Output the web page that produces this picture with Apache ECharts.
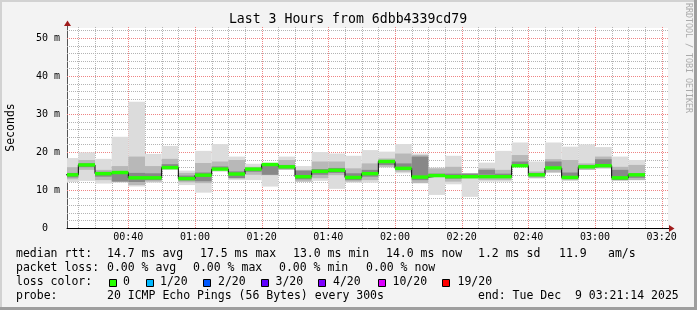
<!DOCTYPE html>
<html><head><meta charset="utf-8">
<script src="https://cdn.jsdelivr.net/npm/echarts@6/dist/echarts.min.js"></script>
<style>html,body{margin:0;padding:0;background:#f3f3f3}#c{width:697px;height:310px}</style>
</head><body><div id="c"></div>
<script>
// ---- data ----
const barStart = ['00:20','00:25','00:30','00:35','00:40','00:45','00:50','00:55',
  '01:00','01:05','01:10','01:15','01:20','01:25','01:30','01:35','01:40','01:45','01:50','01:55',
  '02:00','02:05','02:10','02:15','02:20','02:25','02:30','02:35','02:40','02:45','02:50','02:55',
  '03:00','03:05','03:10'];
const median  = [14.0,16.6,14.3,14.6,13.2,13.2,15.9,13.0,13.9,15.5,14.2,15.5,16.7,16.1,13.5,14.9,15.2,13.3,14.3,17.5,
                 15.7,13.4,13.8,13.5,13.5,13.5,13.5,16.4,14.0,15.8,13.3,16.1,16.4,13.2,14.0];
const outerLo = [12.1,12.4,11.7,11.9,10.9,11.9,15.3,11.3,9.3,14.8,12.6,12.6,10.9,15.3,12.2,12.4,10.3,11.9,11.9,15.9,
                 14.4,11.8,8.7,11.5,8.2,12.2,12.2,16.0,13.1,14.6,12.4,15.3,15.7,12.4,12.6];
const outerHi = [18.4,19.9,18.2,24.0,33.2,19.5,21.6,15.1,20.3,22.1,18.8,16.9,17.2,18.8,16.3,20.0,19.6,19.0,20.5,20.1,
                 22.1,19.6,15.9,19.0,14.4,17.2,20.3,22.5,17.5,22.5,21.4,22.0,21.3,18.8,17.9];
const midLo   = [12.8,15.3,12.6,12.2,11.3,12.2,15.5,12.0,11.8,15.3,13.1,14.0,13.9,15.3,12.2,13.1,13.9,12.2,12.6,16.1,
                 14.8,11.8,13.5,12.2,13.1,12.6,12.6,16.6,13.1,14.6,12.6,15.3,15.7,12.6,12.6];
const midHi   = [16.0,17.9,15.3,16.3,18.8,16.3,18.2,14.5,17.1,17.5,17.9,16.1,17.0,17.9,15.3,17.5,17.5,15.7,17.0,18.3,
                 19.6,19.2,15.7,16.1,14.4,15.7,15.3,19.2,14.9,18.1,17.9,17.0,18.8,16.1,16.6];
const innerLo = [13.3,16.0,13.5,12.2,12.1,12.6,15.5,12.5,12.3,15.3,13.1,14.8,14.0,15.6,12.8,14.0,14.5,12.6,13.5,16.6,
                 15.3,12.6,13.5,13.0,13.6,14.0,13.2,16.4,13.6,16.1,12.9,15.8,16.6,12.6,13.2];
const innerHi = [14.5,17.0,14.8,14.5,14.5,14.4,16.8,13.8,14.6,16.2,14.9,15.8,16.5,16.6,15.1,15.5,15.8,14.4,15.3,17.9,
                 17.0,18.8,14.3,14.3,14.3,15.3,14.3,17.5,14.5,17.5,14.6,16.6,18.1,15.3,14.3];
const stepMinutes = 5;
const viewStart = '00:21:36', viewEnd = '03:21:54';
const xLabelTicks = ['00:40','01:00','01:20','01:40','02:00','02:20','02:40','03:00','03:20'];
const xMinorTicks = ['00:25','00:30','00:35','00:45','00:50','00:55','01:05','01:10','01:15','01:25','01:30','01:35',
  '01:45','01:50','01:55','02:05','02:10','02:15','02:25','02:30','02:35','02:45','02:50','02:55','03:05','03:10','03:15'];
const yLabelTicks = [0,10,20,30,40,50];
const yMinorTicks = [2,4,6,8,12,14,16,18,22,24,26,28,32,34,36,38,42,44,46,48,52];
const yMax = 52.63;

// ---- helpers ----
const toMin = s => { const p = s.split(':').map(Number); return p[0]*60 + p[1] + (p[2]||0)/60; };
const pad = n => (n < 10 ? '0' : '') + n;
const fmtTime = v => pad(Math.floor(Math.round(v)/60)) + ':' + pad(Math.round(v) % 60);
const starts = barStart.map(toMin);
const ends = starts.map(s => s + stepMinutes);

function rectSeries(lo, hi, color, z) {
  return {
    type: 'custom', silent: true, z: z, animation: false,
    data: starts.map((s, i) => [s, ends[i], lo[i], hi[i]]),
    encode: { x: [0, 1], y: [2, 3] },
    renderItem: function (params, api) {
      const a = api.coord([api.value(0), api.value(3)]);
      const b = api.coord([api.value(1), api.value(2)]);
      const cs = params.coordSys;
      const shape = echarts.graphic.clipRectByRect(
        { x: a[0], y: a[1], width: b[0] - a[0], height: b[1] - a[1] },
        { x: cs.x, y: cs.y, width: cs.width, height: cs.height });
      if (!shape) return;
      return { type: 'rect', shape: shape, style: { fill: color } };
    }
  };
}
function gridSeries(vals, dir, color, z) {
  return {
    type: 'custom', silent: true, z: z, animation: false,
    data: vals.map(v => [v]),
    encode: dir === 'x' ? { x: 0 } : { y: 0 },
    renderItem: function (params, api) {
      const cs = params.coordSys;
      let shape;
      if (dir === 'x') {
        const x = Math.round(api.coord([api.value(0), 0])[0]) + 0.5;
        if (x < cs.x || x > cs.x + cs.width) return;
        shape = { x1: x, y1: cs.y - 1, x2: x, y2: cs.y + cs.height };
      } else {
        const y = Math.round(api.coord([toMin(viewStart), api.value(0)])[1]) + 0.5;
        shape = { x1: cs.x, y1: y, x2: cs.x + cs.width, y2: y };
      }
      return { type: 'line', shape: shape, style: { stroke: color, lineWidth: 1, lineDash: [1, 1] } };
    }
  };
}

const mono = "'DejaVu Sans Mono', monospace";
const gLeft = 67, gTop = 28, gRight = 668, gBottom = 228;

const chart = echarts.init(document.getElementById('c'), null, { renderer: 'canvas' });

const stepLine = [];
starts.forEach((s, i) => { stepLine.push([s, median[i]]); stepLine.push([ends[i], median[i]]); });

function txt(x, y, text, size, extra) {
  return Object.assign({ type: 'text', x: x, y: y, silent: true, z: 100,
    style: Object.assign({ text: text, font: size + 'px ' + mono, fill: '#000', textAlign: 'left', textVerticalAlign: 'middle' }, extra || {}) });
}
function box(x, y, color) {
  return { type: 'rect', silent: true, z: 100, shape: { x: x + 0.5, y: y + 0.5, width: 7, height: 7 },
    style: { fill: color, stroke: '#000', lineWidth: 1 } };
}
const lf = 11.5;
const graphics = [
  // frame
  { type: 'rect', silent: true, z: 100, shape: { x: 0, y: 0, width: 697, height: 2 }, style: { fill: '#d2d2d2' } },
  { type: 'rect', silent: true, z: 100, shape: { x: 0, y: 0, width: 2, height: 310 }, style: { fill: '#d2d2d2' } },
  { type: 'rect', silent: true, z: 100, shape: { x: 0, y: 307, width: 697, height: 3 }, style: { fill: '#9e9e9e' } },
  { type: 'rect', silent: true, z: 100, shape: { x: 694, y: 0, width: 3, height: 310 }, style: { fill: '#9e9e9e' } },
  // axis extensions + arrows
  { type: 'line', silent: true, z: 100, shape: { x1: gLeft + 0.5, y1: 23, x2: gLeft + 0.5, y2: gTop }, style: { stroke: '#555', lineWidth: 1 } },
  { type: 'polygon', silent: true, z: 101, shape: { points: [[gLeft + 0.5, 20.5], [gLeft - 3, 26], [gLeft + 4, 26]] }, style: { fill: '#a01c1c' } },
  { type: 'line', silent: true, z: 100, shape: { x1: gRight, y1: gBottom + 0.5, x2: 670, y2: gBottom + 0.5 }, style: { stroke: '#000', lineWidth: 1 } },
  { type: 'polygon', silent: true, z: 101, shape: { points: [[674.5, gBottom + 0.5], [669, gBottom - 3], [669, gBottom + 4]] }, style: { fill: '#a01c1c' } },
  // title and side texts
  txt(348, 19.5, 'Last 3 Hours from 6dbb4339cd79', 13.2, { textAlign: 'center' }),
  Object.assign(txt(11, 127.5, 'Seconds', 11.5, { textAlign: 'center' }), { rotation: Math.PI / 2 }),
  Object.assign(txt(688, 58, 'RRDTOOL / TOBI OETIKER', 8.3, { textAlign: 'center', fill: '#aaaaaa' }), { rotation: -Math.PI / 2 }),
  // legend row 1
  txt(16, 254.5, 'median rtt:', lf), txt(107, 254.5, '14.7 ms avg', lf), txt(200, 254.5, '17.5 ms max', lf),
  txt(293, 254.5, '13.0 ms min', lf), txt(386, 254.5, '14.0 ms now', lf), txt(478, 254.5, '1.2 ms sd', lf),
  txt(559, 254.5, '11.9', lf), txt(608, 254.5, 'am/s', lf),
  // row 2
  txt(16, 268.5, 'packet loss:', lf), txt(107, 268.5, '0.00 % avg', lf), txt(193, 268.5, '0.00 % max', lf),
  txt(279, 268.5, '0.00 % min', lf), txt(366, 268.5, '0.00 % now', lf),
  // row 3
  txt(16, 282.5, 'loss color:', lf),
  box(109, 279, '#26ff00'), txt(123, 282.5, '0', lf),
  box(146, 279, '#00b8ff'), txt(160, 282.5, '1/20', lf),
  box(203, 279, '#0059ff'), txt(218, 282.5, '2/20', lf),
  box(261, 279, '#5e00ff'), txt(275.5, 282.5, '3/20', lf),
  box(318, 279, '#7e00ff'), txt(333, 282.5, '4/20', lf),
  box(378, 279, '#dd00ff'), txt(392.5, 282.5, '10/20', lf),
  box(442, 279, '#ff0000'), txt(457.5, 282.5, '19/20', lf),
  // row 4
  txt(16, 296.5, 'probe:', lf), txt(107, 296.5, '20 ICMP Echo Pings (56 Bytes) every 300s', lf),
  txt(478, 296.5, 'end: Tue Dec  9 03:21:14 2025', lf)
];

chart.setOption({
  backgroundColor: '#f3f3f3',
  animation: false,
  grid: { left: gLeft, top: gTop, width: gRight - gLeft, height: gBottom - gTop, show: true, backgroundColor: '#fff', borderWidth: 0 },
  xAxis: {
    type: 'value', min: toMin(viewStart), max: toMin(viewEnd),
    axisLine: { show: true, lineStyle: { color: '#000', width: 1 } },
    axisTick: { show: false },
    splitLine: { show: false },
    axisLabel: {
      customValues: xLabelTicks.map(toMin),
      formatter: v => fmtTime(v),
      fontFamily: mono, fontSize: 10, color: '#000', margin: 4
    }
  },
  yAxis: {
    type: 'value', min: 0, max: yMax, interval: 10,
    axisLine: { show: true, lineStyle: { color: '#555', width: 1 } },
    axisTick: { show: false },
    splitLine: { show: false },
    axisLabel: {
      showMaxLabel: false,
      formatter: v => (yLabelTicks.indexOf(v) < 0 ? '' : (v === 0 ? '0  ' : v + ' m')),
      fontFamily: mono, fontSize: 10, color: '#000', margin: 7
    }
  },
  graphic: graphics,
  series: [
    gridSeries(xMinorTicks.map(toMin), 'x', '#b4b4b4', 1),
    gridSeries(yMinorTicks, 'y', '#b4b4b4', 1),
    gridSeries(xLabelTicks.map(toMin), 'x', '#ee8484', 2),
    gridSeries(yLabelTicks.slice(1), 'y', '#ee8484', 2),
    rectSeries(outerLo, outerHi, '#dcdcdc', 3),
    rectSeries(midLo, midHi, '#b8b8b8', 4),
    rectSeries(innerLo, innerHi, '#888888', 5),
    { type: 'line', data: stepLine, symbol: 'none', z: 6, silent: true, animation: false,
      lineStyle: { color: '#000', width: 1 } },
    rectSeries(median.map(m => m - 0.45), median.map(m => m + 0.45), '#26ff00', 7)
  ]
});
</script></body></html>
